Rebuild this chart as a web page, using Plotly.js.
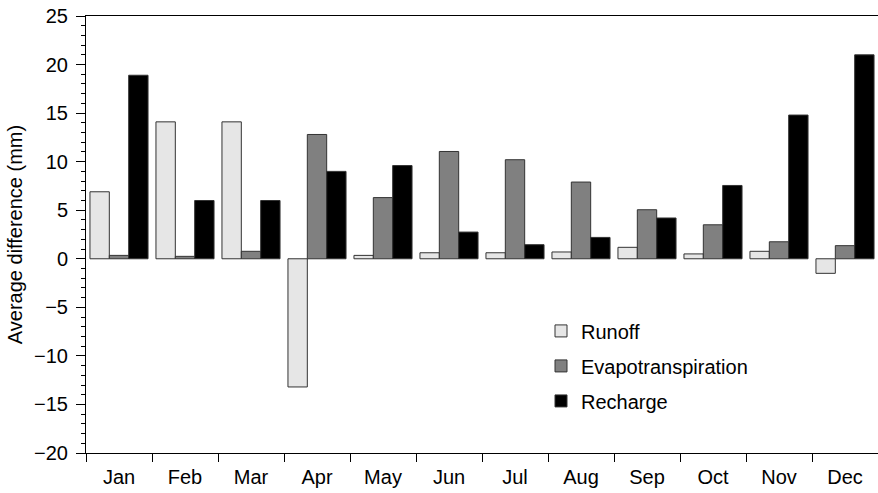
<!DOCTYPE html>
<html><head><meta charset="utf-8">
<script src="https://cdn.plot.ly/plotly-3.0.1.min.js"></script>
<style>body{margin:0;background:#fff}#chart{width:878px;height:493px}</style>
</head><body><div id="chart"></div>
<script>
const months = ['Jan','Feb','Mar','Apr','May','Jun','Jul','Aug','Sep','Oct','Nov','Dec'];
const runoff = [6.9, 14.1, 14.1, -13.2, 0.35, 0.62, 0.62, 0.7, 1.18, 0.5, 0.77, -1.5];
const evapotranspiration = [0.35, 0.25, 0.77, 12.8, 6.3, 11.05, 10.2, 7.9, 5.05, 3.5, 1.75, 1.35];
const recharge = [18.9, 6.0, 6.0, 9.0, 9.6, 2.75, 1.45, 2.2, 4.2, 7.55, 14.8, 21.0];

const line = {color:'#333', width:1};
const traces = [
  {type:'bar', name:'Runoff', x:months, y:runoff, marker:{color:'#e6e6e6', line:line}, legendgroup:'a'},
  {type:'bar', name:'Evapotranspiration', x:months, y:evapotranspiration, marker:{color:'#808080', line:line}, legendgroup:'b'},
  {type:'bar', name:'Recharge', x:months, y:recharge, marker:{color:'#000000', line:line}, legendgroup:'c'}
];
const fam = 'Liberation Sans, Arial, sans-serif';
const layout = {
  width:878, height:493,
  margin:{l:86, r:0, t:16, b:40},
  paper_bgcolor:'#fff', plot_bgcolor:'#fff',
  font:{family:fam, size:20, color:'#000'},
  barmode:'group', bargap:0.12, bargroupgap:0,
  showlegend:true,
  legend:{x:0.5745, y:0.324, xanchor:'left', yanchor:'top', font:{family:fam, size:20},
          traceorder:'grouped', tracegroupgap:6, bgcolor:'rgba(0,0,0,0)'},
  xaxis:{showline:true, linecolor:'#000', linewidth:1, mirror:true, ticks:'outside', ticklen:8,
         tickcolor:'#000', tickson:'boundaries', showgrid:false, zeroline:false, ticklabelstandoff:6,
         tickfont:{family:fam, size:20}},
  yaxis:{range:[-20,25], dtick:5, showline:true, linecolor:'#000', linewidth:1, ticks:'outside',
         ticklen:9, tickcolor:'#000', showgrid:false, zeroline:false, ticklabelstandoff:4,
         tickfont:{family:fam, size:20},
         minor:{dtick:1, ticks:'outside', ticklen:4, tickcolor:'#000', showgrid:false},
         title:{text:'Average difference (mm)', font:{family:fam, size:20}, standoff:6}}
};
Plotly.newPlot('chart', traces, layout, {displayModeBar:false, staticPlot:true});
</script></body></html>
